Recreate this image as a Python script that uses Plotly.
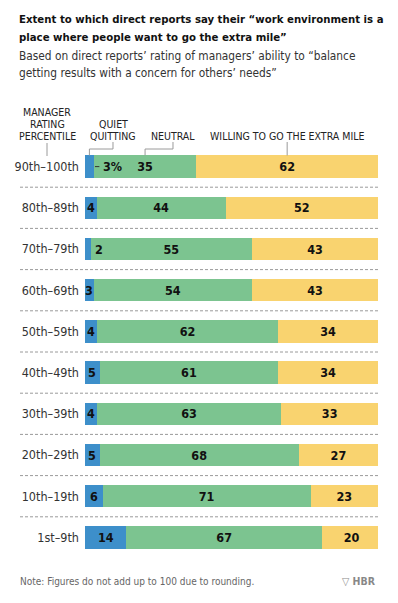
import plotly.graph_objects as go

categories = ["90th–100th", "80th–89th", "70th–79th", "60th–69th", "50th–59th",
              "40th–49th", "30th–39th", "20th–29th", "10th–19th", "1st–9th"]
quiet = [3, 4, 2, 3, 4, 5, 4, 5, 6, 14]
neutral = [35, 44, 55, 54, 62, 61, 63, 68, 71, 67]
willing = [62, 52, 43, 43, 34, 34, 33, 27, 23, 20]
quiet_labels = ["3%", "4", "2", "3", "4", "5", "4", "5", "6", "14"]
quiet_outside = [True, False, True, False, False, False, False, False, False, False]

title_lines = ["Extent to which direct reports say their “work environment is a",
               "place where people want to go the extra mile”"]
subtitle_lines = ["Based on direct reports’ rating of managers’ ability to “balance",
                  "getting results with a concern for others’ needs”"]

BLUE = "#3d8fca"
GREEN = "#7cc490"
YELLOW = "#f9d36f"
FONT = "DejaVu Sans Condensed, Liberation Sans Narrow, sans-serif"

W, H = 398, 603
ML, MR, MT, MB = 85, 20, 146, 45
PW = W - ML - MR
PH = H - MT - MB

def px2paper_x(px):
    return (px - ML) / PW

def py2paper_y(py):
    return (H - MB - py) / PH

ys = list(range(len(categories)))
bw = 0.54
VAL = dict(family=FONT, size=12.5, color="#111", weight="bold")

fig = go.Figure()
fig.add_trace(go.Bar(y=ys, x=quiet, orientation="h", marker_color=BLUE, width=bw,
                     marker_line_width=0, hoverinfo="skip"))
fig.add_trace(go.Bar(y=ys, x=neutral, orientation="h", marker_color=GREEN, width=bw,
                     marker_line_width=0, text=[str(v) for v in neutral],
                     textposition="inside", insidetextanchor="middle", textangle=0,
                     constraintext="none", textfont=VAL, hoverinfo="skip"))
fig.add_trace(go.Bar(y=ys, x=willing, orientation="h", marker_color=YELLOW, width=bw,
                     marker_line_width=0, text=[str(v) for v in willing],
                     textposition="inside", insidetextanchor="middle", textangle=0,
                     constraintext="none", textfont=VAL, hoverinfo="skip"))

annotations = []
shapes = []

# quiet-quitting labels
for i, (q, lab, out) in enumerate(zip(quiet, quiet_labels, quiet_outside)):
    if out:
        extra = 2.4 if lab.endswith("%") else 0.6
        annotations.append(dict(x=q + extra, y=i, xref="x", yref="y", text=lab,
                                showarrow=False, xanchor="left", font=VAL))
        if lab.endswith("%"):
            shapes.append(dict(type="line", xref="x", yref="y", x0=q + 0.4, x1=q + 1.9,
                               y0=i, y1=i, line=dict(color="#333", width=1)))
    else:
        annotations.append(dict(x=q / 2, y=i, xref="x", yref="y", text=lab,
                                showarrow=False, xanchor="center", font=VAL))

# dashed separators
for i in range(len(categories) - 1):
    shapes.append(dict(type="line", xref="paper", yref="y", x0=px2paper_x(20), x1=1.0,
                       y0=i + 0.5, y1=i + 0.5,
                       line=dict(color="#9a9a9a", width=1, dash="3px,2px")))

# header labels and leaders
bar_top = py2paper_y(155.5)
elbow = py2paper_y(149)
lab_bot = py2paper_y(142)
hdr_font = dict(family=FONT, size=10.5, color="#222")

q_mid = quiet[0] / 2 / 100
n_mid = (quiet[0] + neutral[0] / 2) / 100
w_mid = (quiet[0] + neutral[0] + willing[0] / 2) / 100
q_lab = px2paper_x(113)
n_lab = px2paper_x(173)
m_x = px2paper_x(47)

header = [(m_x, ["MANAGER", "RATING", "PERCENTILE"]), (q_lab, ["QUIET", "QUITTING"]),
          (n_lab, ["NEUTRAL"]), (w_mid, ["WILLING TO GO THE EXTRA MILE"])]
for x, lines in header:
    n = len(lines)
    for k, t in enumerate(lines):
        cy = 136 - 12 * (n - 1 - k)
        annotations.append(dict(x=x, y=py2paper_y(cy), xref="paper", yref="paper",
                                text=t, showarrow=False, xanchor="center", yanchor="middle",
                                font=hdr_font))

lc = dict(color="#9a9a9a", width=1)
shapes.append(dict(type="line", xref="paper", yref="paper", x0=m_x, x1=m_x,
                   y0=py2paper_y(143), y1=py2paper_y(156), line=lc))
for mid, lab in [(q_mid, q_lab), (n_mid, n_lab)]:
    shapes.append(dict(type="path", xref="paper", yref="paper",
                       path="M %f %f L %f %f L %f %f L %f %f" % (mid, bar_top, mid, elbow,
                                                                  lab, elbow, lab, lab_bot),
                       line=lc))
shapes.append(dict(type="line", xref="paper", yref="paper", x0=w_mid, x1=w_mid,
                   y0=lab_bot, y1=bar_top, line=lc))

# title & subtitle
for k, t in enumerate(title_lines):
    annotations.append(dict(x=px2paper_x(17), y=py2paper_y(20 + 18 * k), xref="paper",
                            yref="paper", text="<b>%s</b>" % t,
                            showarrow=False, xanchor="left", yanchor="middle",
                            font=dict(family=FONT, size=11.3, color="#111")))
for k, t in enumerate(subtitle_lines):
    annotations.append(dict(x=px2paper_x(17), y=py2paper_y(56 + 17 * k), xref="paper",
                            yref="paper", text=t,
                            showarrow=False, xanchor="left", yanchor="middle",
                            font=dict(family=FONT, size=11.8, color="#333")))
# footnote
annotations.append(dict(x=px2paper_x(18), y=py2paper_y(581), xref="paper", yref="paper",
                        text="Note: Figures do not add up to 100 due to rounding.",
                        showarrow=False, xanchor="left", yanchor="middle",
                        font=dict(family=FONT, size=10, color="#666")))
annotations.append(dict(x=1.0, y=py2paper_y(581), xref="paper", yref="paper",
                        text="<b>▽ HBR</b>",
                        showarrow=False, xanchor="right", yanchor="middle",
                        font=dict(family=FONT, size=10.5, color="#888")))

fig.update_layout(
    barmode="stack",
    width=W, height=H,
    margin=dict(l=ML, r=MR, t=MT, b=MB),
    paper_bgcolor="white", plot_bgcolor="white",
    showlegend=False,
    font=dict(family=FONT),
    xaxis=dict(range=[0, 100], visible=False, fixedrange=True, automargin=False),
    yaxis=dict(range=[len(categories) - 0.5, -0.5], tickvals=ys, ticktext=categories,
               showgrid=False, zeroline=False, showline=False, ticks="",
               ticklabelstandoff=5, automargin=False,
               tickfont=dict(family=FONT, size=12.5, color="#333"), fixedrange=True),
    annotations=annotations,
    shapes=shapes,
    uniformtext=dict(mode=False),
)

fig.write_html("out.html",
               config=dict(displayModeBar=False),
               post_script="document.body.style.margin='0';document.body.style.overflow='hidden';")
